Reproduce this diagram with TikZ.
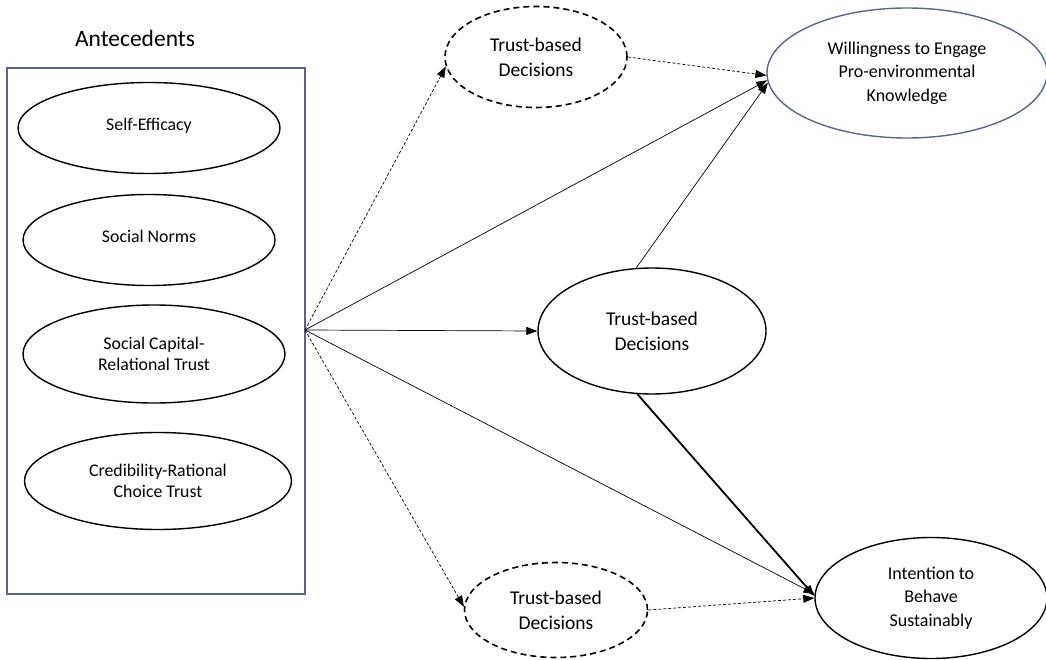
\documentclass[tikz,border=0pt]{standalone}
\usepackage{fontspec}
\setmainfont{Carlito}
\usetikzlibrary{shapes.geometric,arrows.meta}
\definecolor{framegray}{RGB}{92,102,130}
\begin{document}
\begin{tikzpicture}[x=1pt, y=-1pt, >={Triangle[length=11pt,width=8pt]},
  latent/.style={ellipse, draw, line width=1.4pt, inner sep=0pt, align=center},
  leftvar/.style={latent, font=\fontsize{17.8}{21.5}\selectfont},
  rightvar/.style={latent, font=\fontsize{18}{23.5}\selectfont},
  mediator/.style={latent, font=\fontsize{19.5}{25}\selectfont, dashed, dash pattern=on 6pt off 4pt, line width=1.6pt},
  thinpath/.style={->, line width=0.7pt},
  dashpath/.style={->, line width=0.7pt, dash pattern=on 3pt off 2pt}]
\useasboundingbox (0,0) rectangle (1046,660);
% Antecedents
\node[font=\fontsize{23.5}{28}\selectfont] (title) at (135,38) {Antecedents};
\draw[framegray, line width=1.3pt] (7,68) rectangle (305,594);
\node[leftvar, minimum width=262pt, minimum height=91pt] (selfeff) at (149,128) {\raisebox{8pt}{Self-Efficacy}};
\node[leftvar, minimum width=252pt, minimum height=91pt] (norms) at (149,240) {\raisebox{8pt}{Social Norms}};
\node[leftvar, minimum width=262pt, minimum height=98pt] (capital) at (154,354) {Social Capital-\\Relational Trust};
\node[leftvar, minimum width=267pt, minimum height=97pt] (cred) at (158,481) {Credibility-Rational\\Choice Trust};
\coordinate (hub) at (305,330);
% Mediators and outcomes
\node[mediator, minimum width=182pt, minimum height=101pt] (toptrust) at (536,57) {Trust-based\\Decisions};
\node[mediator, solid, line width=1.4pt, minimum width=228pt, minimum height=126pt] (midtrust) at (652,331) {Trust-based\\Decisions};
\node[mediator, minimum width=183pt, minimum height=95pt] (bottrust) at (556,610) {Trust-based\\Decisions};
\node[rightvar, draw=framegray, minimum width=280pt, minimum height=130pt] (willing) at (907,73) {Willingness to Engage\\Pro-environmental\\Knowledge};
\node[rightvar, minimum width=232pt, minimum height=121pt] (intent) at (931,598) {Intention to\\Behave\\Sustainably};
% Paths from antecedents
\draw[dashpath] (hub) -- (toptrust.186);
\draw[thinpath] (hub) -- (willing.183);
\draw[thinpath] (hub) -- (midtrust.west);
\draw[thinpath] (hub) -- (intent.178);
\draw[dashpath] (hub) -- (bottrust.178);
% Paths to outcomes
\draw[dashpath] (toptrust.east) -- (willing.181);
\draw[thinpath] (midtrust.104) -- (willing.184);
\draw[->, line width=1.8pt] (midtrust.257) -- (intent.179);
\draw[dashpath] (bottrust.east) -- (intent.180);
\end{tikzpicture}
\end{document}
